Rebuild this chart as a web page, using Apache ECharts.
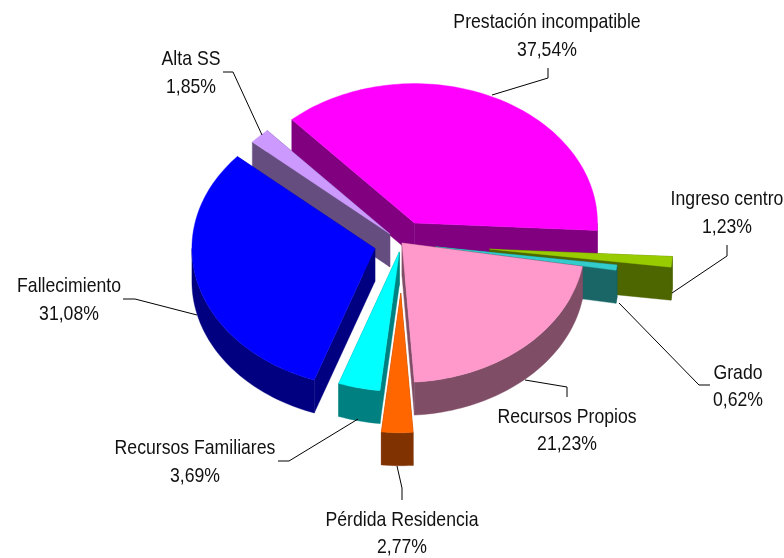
<!DOCTYPE html>
<html>
<head>
<meta charset="utf-8">
<script src="https://cdn.jsdelivr.net/npm/echarts@6/dist/echarts.min.js"></script>
<style>
html, body { margin: 0; padding: 0; background: #fff; }
#main { width: 784px; height: 558px; }
</style>
</head>
<body>
<div id="main"></div>
<script>
// data, clockwise from the left edge of the big slice
const categories = ['Prestación incompatible', 'Ingreso centro', 'Grado', 'Recursos Propios', 'Pérdida Residencia', 'Recursos Familiares', 'Fallecimiento', 'Alta SS']
const values = [37.54, 1.23, 0.62, 21.23, 2.77, 3.69, 31.08, 1.85]

const topColors = ['#FF00FF', '#99CC00', '#33CCCC', '#FF99CC', '#FF6600', '#00FFFF', '#0000FF', '#CC99FF']
const sideColors = ['#800080', '#4D6600', '#1A6666', '#804D66', '#803300', '#008080', '#000080', '#664D80']
// how far each slice is pulled out (px on the x radius)
const explode = [29, 88, 34, 0, 66, 12, 28, 17]
// back to front
const drawOrder = [0, 7, 6, 1, 2, 3, 5, 4]

// pie geometry
const cx = 402, cy = 243, rx = 183, tilt = 0.762, depth = 33
const startAngle = -42.1
const total = values.reduce((a, b) => a + b, 0)

// label centre and leader line of each slice
const labelPos = [[547, 36], [727, 213], [738, 386.5], [567, 430.5], [402, 533.5], [195, 462], [69, 300], [191, 73]]
const leaders = [
    [[492, 95], [548, 78], [548, 68]],
    [[672, 293], [727, 256], [727, 245]],
    [[619, 303], [699, 385], [710, 385]],
    [[525, 380], [567, 387], [567, 397]],
    [[397, 466], [402, 488], [402, 500]],
    [[358, 419], [289, 461], [278, 461]],
    [[197, 315], [135, 299], [123, 299]],
    [[262, 135], [233, 72], [223, 72]]
]

const angles = []
let acc = startAngle
values.forEach((v) => {
    let next = acc + v / total * 360
    angles.push([acc, next])
    acc = next
})

const rad = (d) => d * Math.PI / 180

const pt = (ox, oy, a, dy) => [ox + rx * Math.sin(rad(a)), oy - rx * tilt * Math.cos(rad(a)) + (dy || 0)]

const arc = (ox, oy, a0, a1, dy) => {
    let pts = []
    let n = Math.max(2, Math.ceil((a1 - a0) / 1.5))
    for (let k = 0; k <= n; k++) {
        pts.push(pt(ox, oy, a0 + (a1 - a0) * k / n, dy))
    }
    return pts
}

const poly = (points, color, z2) => ({
    type: 'polygon',
    z2: z2,
    shape: { points: points },
    style: { fill: color, stroke: color, lineWidth: 0.4 },
    silent: true
})

const renderSlice = (params, api) => {
    let i = api.value(1)
    let [a0, a1] = angles[i]
    let mid = (a0 + a1) / 2
    let ox = cx + explode[i] * Math.sin(rad(mid))
    let oy = cy - explode[i] * tilt * Math.cos(rad(mid))
    let base = drawOrder.indexOf(i) * 10
    let side = sideColors[i]
    let children = []

    // cut faces
    let p0 = pt(ox, oy, a0), p1 = pt(ox, oy, a1)
    children.push(poly([[ox, oy], p0, [p0[0], p0[1] + depth], [ox, oy + depth]], side, base))
    children.push(poly([[ox, oy], p1, [p1[0], p1[1] + depth], [ox, oy + depth]], side, base))

    // outer wall, only the front half shows
    let w0 = Math.max(a0, 90), w1 = Math.min(a1, 270)
    if (w1 > w0) {
        let wall = arc(ox, oy, w0, w1, 0).concat(arc(ox, oy, w0, w1, depth).reverse())
        children.push(poly(wall, side, base + 1))
    }

    // top
    children.push(poly([[ox, oy]].concat(arc(ox, oy, a0, a1, 0)), topColors[i], base + 2))

    return { type: 'group', children: children }
}

const renderLabel = (params, api) => {
    let i = api.value(1)
    return {
        type: 'group',
        children: [
            {
                type: 'polyline',
                z2: 200,
                shape: { points: leaders[i] },
                style: { fill: null, stroke: '#000', lineWidth: 1 },
                silent: true
            },
            {
                type: 'text',
                z2: 201,
                x: labelPos[i][0],
                y: labelPos[i][1],
                // no narrow font here, so squeeze a taller one
                scaleX: 0.84,
                style: {
                    text: categories[i] + '\n' + values[i].toFixed(2).replace('.', ',') + '%',
                    fill: '#111',
                    font: '21px "Liberation Sans", sans-serif',
                    lineHeight: 27.5,
                    align: 'center',
                    verticalAlign: 'middle'
                },
                silent: true
            }
        ]
    }
}

let myChart = echarts.init(document.getElementById('main'))
myChart.setOption({
    animation: false,
    backgroundColor: '#fff',
    series: [
        {
            type: 'custom',
            coordinateSystem: 'none',
            renderItem: renderSlice,
            data: values.map((v, i) => [v, i])
        },
        {
            type: 'custom',
            coordinateSystem: 'none',
            z: 5,
            renderItem: renderLabel,
            data: values.map((v, i) => [v, i])
        }
    ]
})
</script>
</body>
</html>
